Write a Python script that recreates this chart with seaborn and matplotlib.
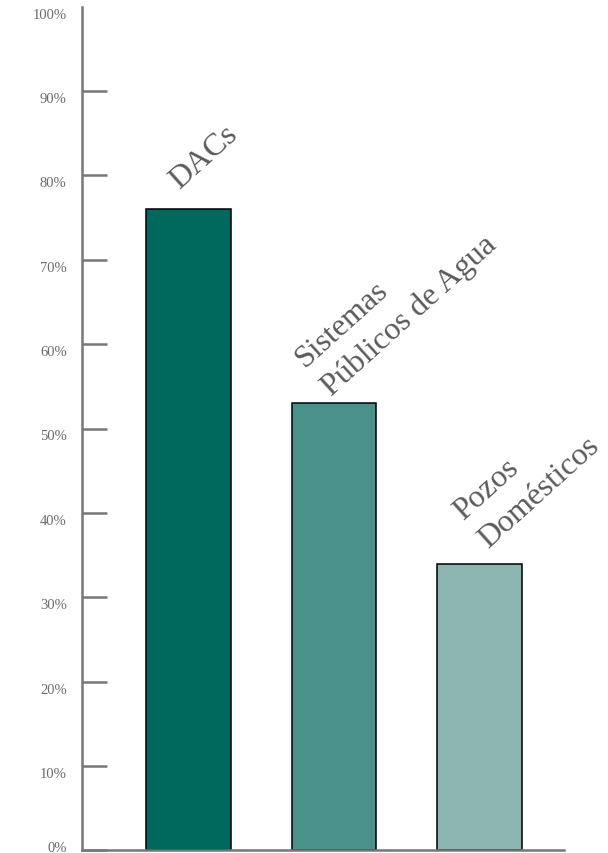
import matplotlib
matplotlib.use("Agg")
import matplotlib.pyplot as plt
import matplotlib.transforms as mtransforms
import seaborn as sns
import pandas as pd

categories = ["DACs", "Sistemas\nPúblicos de Agua", "Pozos\nDomésticos"]
values = [76, 53, 34]
colors = ["#00695E", "#4A918C", "#8CB5B2"]
tick_values = [0, 10, 20, 30, 40, 50, 60, 70, 80, 90, 100]
tick_labels = [f"{v}%" for v in tick_values]
label_offsets = [(-9, 20), (-9, 14), (3, 22)]

sns.set_theme(style="white")
plt.rcParams["font.family"] = ["Liberation Serif", "DejaVu Serif"]

df = pd.DataFrame({"cat": categories, "val": values})

fig = plt.figure(figsize=(6.08, 8.54), dpi=100)
ax = fig.add_axes([82 / 608, 2.6 / 854, (564 - 82) / 608, (851.4 - 7.6) / 854])

sns.barplot(data=df, x="cat", y="val", hue="cat", palette=colors, legend=False,
            width=0.58, edgecolor="black", linewidth=1.1, saturation=1, ax=ax)

ax.set_xlim(-0.73, 2.58)
ax.set_ylim(0, 100)
ax.set_xticks([])
ax.set_xlabel("")
ax.set_ylabel("")

ax.set_yticks(tick_values)
ax.set_yticklabels(tick_labels, fontsize=10.5, color="#6b6b6b")
ax.tick_params(axis="y", direction="in", length=18, width=1.8, color="#777777", pad=11, left=True)
ax.yaxis.get_major_ticks()[-1].tick1line.set_visible(False)

for lab, v in zip(ax.get_yticklabels(), tick_values):
    dy = 4 if v == 0 else -6
    shift = mtransforms.ScaledTranslation(0, dy / 100, fig.dpi_scale_trans)
    lab.set_transform(lab.get_transform() + shift)

for s in ["top", "right"]:
    ax.spines[s].set_visible(False)
for s in ["left", "bottom"]:
    ax.spines[s].set_color("#777777")
    ax.spines[s].set_linewidth(1.8)

for i, (cat, val) in enumerate(zip(categories, values)):
    ax.annotate(cat, xy=(i, val), xytext=label_offsets[i], textcoords="offset pixels",
                ha="left", va="baseline", rotation=42, rotation_mode="anchor",
                fontsize=23, color="#5a5a5a", multialignment="left", linespacing=1.4)

fig.savefig("out.png", dpi=100)
